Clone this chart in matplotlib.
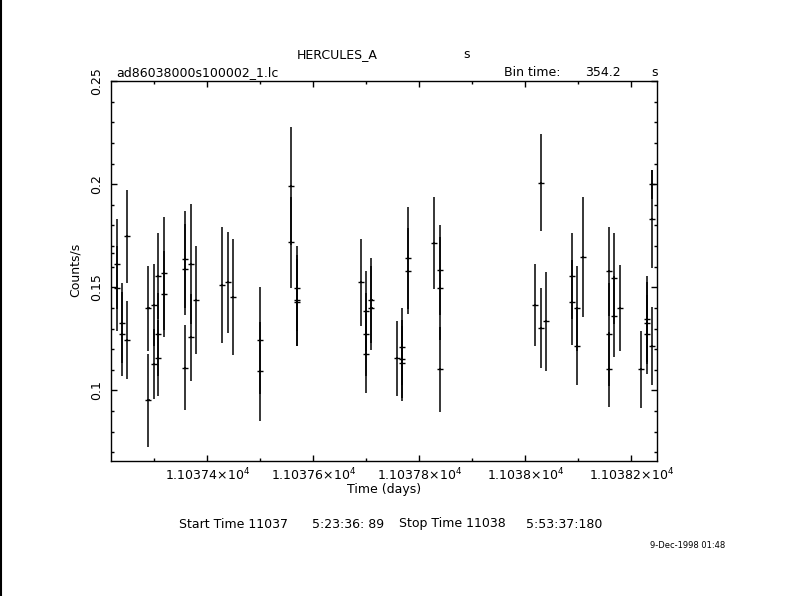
import matplotlib
matplotlib.use("Agg")
import matplotlib.pyplot as plt
from matplotlib.ticker import FixedLocator, FixedFormatter, MultipleLocator
from matplotlib.lines import Line2D

plt.rcParams['font.family'] = ['DejaVu Sans']
plt.rcParams['mathtext.fontset'] = 'dejavusans'

# light curve: time (days), rate (counts/s), 1-sigma error
t_days = [11037.2185,
          11037.2295, 11037.2295, 11037.2389, 11037.2389, 11037.2484, 11037.2484,
          11037.2892, 11037.2892, 11037.2994, 11037.2994,
          11037.3077, 11037.3077, 11037.3077, 11037.3182, 11037.3182,
          11037.3586, 11037.3586, 11037.3586, 11037.3692, 11037.3692, 11037.3794,
          11037.4278, 11037.4391, 11037.4485,
          11037.4995, 11037.4995,
          11037.5584, 11037.5584, 11037.5694, 11037.5694, 11037.5694,
          11037.6902, 11037.7000, 11037.7000, 11037.7000, 11037.7099, 11037.7099,
          11037.7582, 11037.7676, 11037.7676, 11037.7676, 11037.7790, 11037.7790,
          11037.8281, 11037.8394, 11037.8394, 11037.8394,
          11038.0188, 11038.0301, 11038.0301, 11038.0395,
          11038.0886, 11038.0886, 11038.0981, 11038.0981, 11038.1094,
          11038.1585, 11038.1585, 11038.1585, 11038.1680, 11038.1680, 11038.1793,
          11038.2190, 11038.2304, 11038.2304, 11038.2304,
          11038.2398, 11038.2398, 11038.2398]
rate = [0.1668,
        0.1613, 0.1495, 0.1327, 0.1272, 0.1747, 0.1244,
        0.1398, 0.0953, 0.1414, 0.1130,
        0.1555, 0.1272, 0.1157, 0.1568, 0.1467,
        0.1636, 0.1587, 0.1111, 0.1613, 0.1257, 0.1438,
        0.1511, 0.1525, 0.1451,
        0.1243, 0.1094,
        0.1992, 0.1718, 0.1495, 0.1437, 0.1427,
        0.1524, 0.1385, 0.1272, 0.1179, 0.1438, 0.1400,
        0.1155, 0.1213, 0.1151, 0.1131, 0.1641, 0.1579,
        0.1713, 0.1583, 0.1495, 0.1102,
        0.1414, 0.2006, 0.1301, 0.1335,
        0.1555, 0.1427, 0.1398, 0.1215, 0.1647,
        0.1577, 0.1272, 0.1102, 0.1543, 0.1359, 0.1398,
        0.1102, 0.1346, 0.1327, 0.1272,
        0.1999, 0.1830, 0.1215]
rate_err = [0.0220,
            0.0220, 0.0206, 0.0192, 0.0203, 0.0224, 0.0190,
            0.0206, 0.0225, 0.0200, 0.0170,
            0.0207, 0.0200, 0.0185, 0.0275, 0.0207,
            0.0236, 0.0220, 0.0207, 0.0290, 0.0210, 0.0260,
            0.0283, 0.0245, 0.0281,
            0.0260, 0.0240,
            0.0285, 0.0220, 0.0205, 0.0220, 0.0210,
            0.0210, 0.0194, 0.0200, 0.0190, 0.0206, 0.0204,
            0.0184, 0.0187, 0.0190, 0.0182, 0.0248, 0.0210,
            0.0223, 0.0219, 0.0250, 0.0206,
            0.0200, 0.0235, 0.0194, 0.0240,
            0.0207, 0.0207, 0.0205, 0.0190, 0.0293,
            0.0216, 0.0250, 0.0182, 0.0221, 0.0197, 0.0208,
            0.0188, 0.0209, 0.0200, 0.0193,
            0.0070, 0.0238, 0.0188]
half_bin = 354.2 / 86400.0 / 2

xtick_vals = [11037.4, 11037.6, 11037.8, 11038.0, 11038.2]
xtick_text = [r'1.10374$\times$10$^{4}$', r'1.10376$\times$10$^{4}$',
              r'1.10378$\times$10$^{4}$', r'1.1038$\times$10$^{4}$',
              r'1.10382$\times$10$^{4}$']
ytick_vals = [0.1, 0.15, 0.2, 0.25]
ytick_text = ['0.1', '0.15', '0.2', '0.25']

W, H = 790, 596
fig = plt.figure(figsize=(W / 100, H / 100), dpi=100)
ax = fig.add_axes([111 / W, 1 - 461 / H, 546 / W, 380 / H])

ax.errorbar(t_days, rate, yerr=rate_err, xerr=half_bin, fmt='_', color='black',
            markersize=4.5, markeredgewidth=1.0,
            ecolor='black', elinewidth=1.1, capsize=0)

ax.set_xlim(11037.2185, 11038.2485)
ax.set_ylim(0.0658, 0.25)

ax.xaxis.set_major_locator(FixedLocator(xtick_vals))
ax.xaxis.set_major_formatter(FixedFormatter(xtick_text))
ax.xaxis.set_minor_locator(MultipleLocator(0.1))
ax.yaxis.set_major_locator(FixedLocator(ytick_vals))
ax.yaxis.set_major_formatter(FixedFormatter(ytick_text))
ax.yaxis.set_minor_locator(MultipleLocator(0.01))

ax.tick_params(which='both', direction='in', top=True, right=True, width=1, colors='black')
ax.tick_params(which='major', length=4.5)
ax.tick_params(which='minor', length=2.5)
ax.tick_params(axis='x', labelsize=9, pad=4)
ax.tick_params(axis='y', labelsize=9, pad=6)
for lab in ax.get_yticklabels():
    lab.set_rotation(90)
    lab.set_va('center')
for sp in ax.spines.values():
    sp.set_linewidth(1.0)

fs = 9
def px(x, y):
    return x / W, 1 - y / H

fig.text(*px(297, 55), 'HERCULES_A', fontsize=fs, va='center', ha='left')
fig.text(*px(463, 55), 's', fontsize=fs, va='center', ha='left')
fig.text(*px(116, 73), 'ad86038000s100002_1.lc', fontsize=fs, va='center', ha='left')
fig.text(*px(504, 73), 'Bin time:', fontsize=fs, va='center', ha='left')
fig.text(*px(585, 73), '354.2', fontsize=fs, va='center', ha='left')
fig.text(*px(651, 73), 's', fontsize=fs, va='center', ha='left')
fig.text(*px(75, 270), 'Counts/s', fontsize=fs, va='center', ha='center', rotation=90)
fig.text(*px(384, 490), 'Time (days)', fontsize=fs, va='center', ha='center')
fig.text(*px(179, 524), 'Start Time 11037', fontsize=fs, va='center', ha='left')
fig.text(*px(312, 524), '5:23:36: 89', fontsize=fs, va='center', ha='left')
fig.text(*px(399, 524), 'Stop Time 11038', fontsize=fs, va='center', ha='left')
fig.text(*px(526, 524), '5:53:37:180', fontsize=fs, va='center', ha='left')
fig.text(*px(650, 545), '9-Dec-1998 01:48', fontsize=6, va='center', ha='left')

# frame line on the left edge of the page
fig.add_artist(Line2D([0.001, 0.001], [0, 1], transform=fig.transFigure,
                      color='black', linewidth=1.5))

fig.savefig('out.png', dpi=100)
